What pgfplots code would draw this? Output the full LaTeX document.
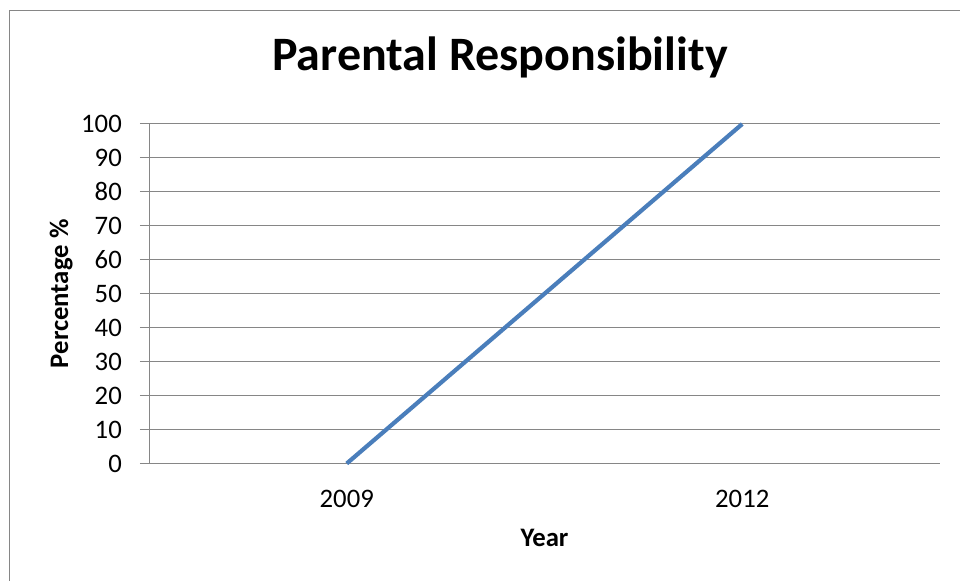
\documentclass[border=0pt]{standalone}
\usepackage{pgfplots}
\pgfplotsset{compat=1.18}
\usepackage{fontspec}
\setmainfont{Carlito}
\definecolor{gridgray}{RGB}{134,134,134}
\definecolor{linebl}{RGB}{74,126,187}
\begin{document}
\begin{tikzpicture}[x=1bp,y=1bp]
\useasboundingbox (0,0) rectangle (960,581);
\draw[gridgray, line width=1bp] (9.5,0) -- (9.5,570.5) -- (960,570.5);
\begin{axis}[
  at={(149bp,117.5bp)}, anchor=south west,
  scale only axis, width=791bp, height=339.5bp,
  xmin=-0.5, xmax=1.5, ymin=0, ymax=100,
  xtick={0,1}, xticklabels={2009,2012},
  ytick={0,10,...,100},
  axis lines*=left,
  axis line style={draw=gridgray, line width=1bp},
  ymajorgrids, grid style={draw=gridgray, line width=1bp},
  x tick style={draw=none}, major x tick style={draw=none},
  y tick style={draw=gridgray, line width=1bp},
  tick align=outside, major tick length=9bp,
  /pgf/number format/assume math mode=true,
  font=\fontsize{26.7bp}{30bp}\selectfont,
  xticklabel style={font=\fontsize{26.7bp}{30bp}\selectfont, anchor=north, inner sep=0pt, yshift=-17.5bp},
  yticklabel style={font=\fontsize{26.7bp}{30bp}\selectfont, anchor=east, inner sep=0pt, xshift=-18bp},
  title={Parental Responsibility},
  title style={font=\fontsize{48bp}{56bp}\selectfont\bfseries, anchor=base, at={(axis description cs:0.4437,1.1414)}},
  xlabel={Year},
  xlabel style={font=\fontsize{26.7bp}{30bp}\selectfont\bfseries, anchor=base, at={(axis description cs:0.5,-0.2459)}},
  ylabel={Percentage \%},
  ylabel style={font=\fontsize{26.7bp}{30bp}\selectfont\bfseries, anchor=base, rotate=0, at={(axis description cs:-0.1024,0.5)}},
  clip=false,
]
\addplot[linebl, line width=4.2bp, no marks] coordinates {(0,0) (1,100)};
\end{axis}
\end{tikzpicture}
\end{document}
